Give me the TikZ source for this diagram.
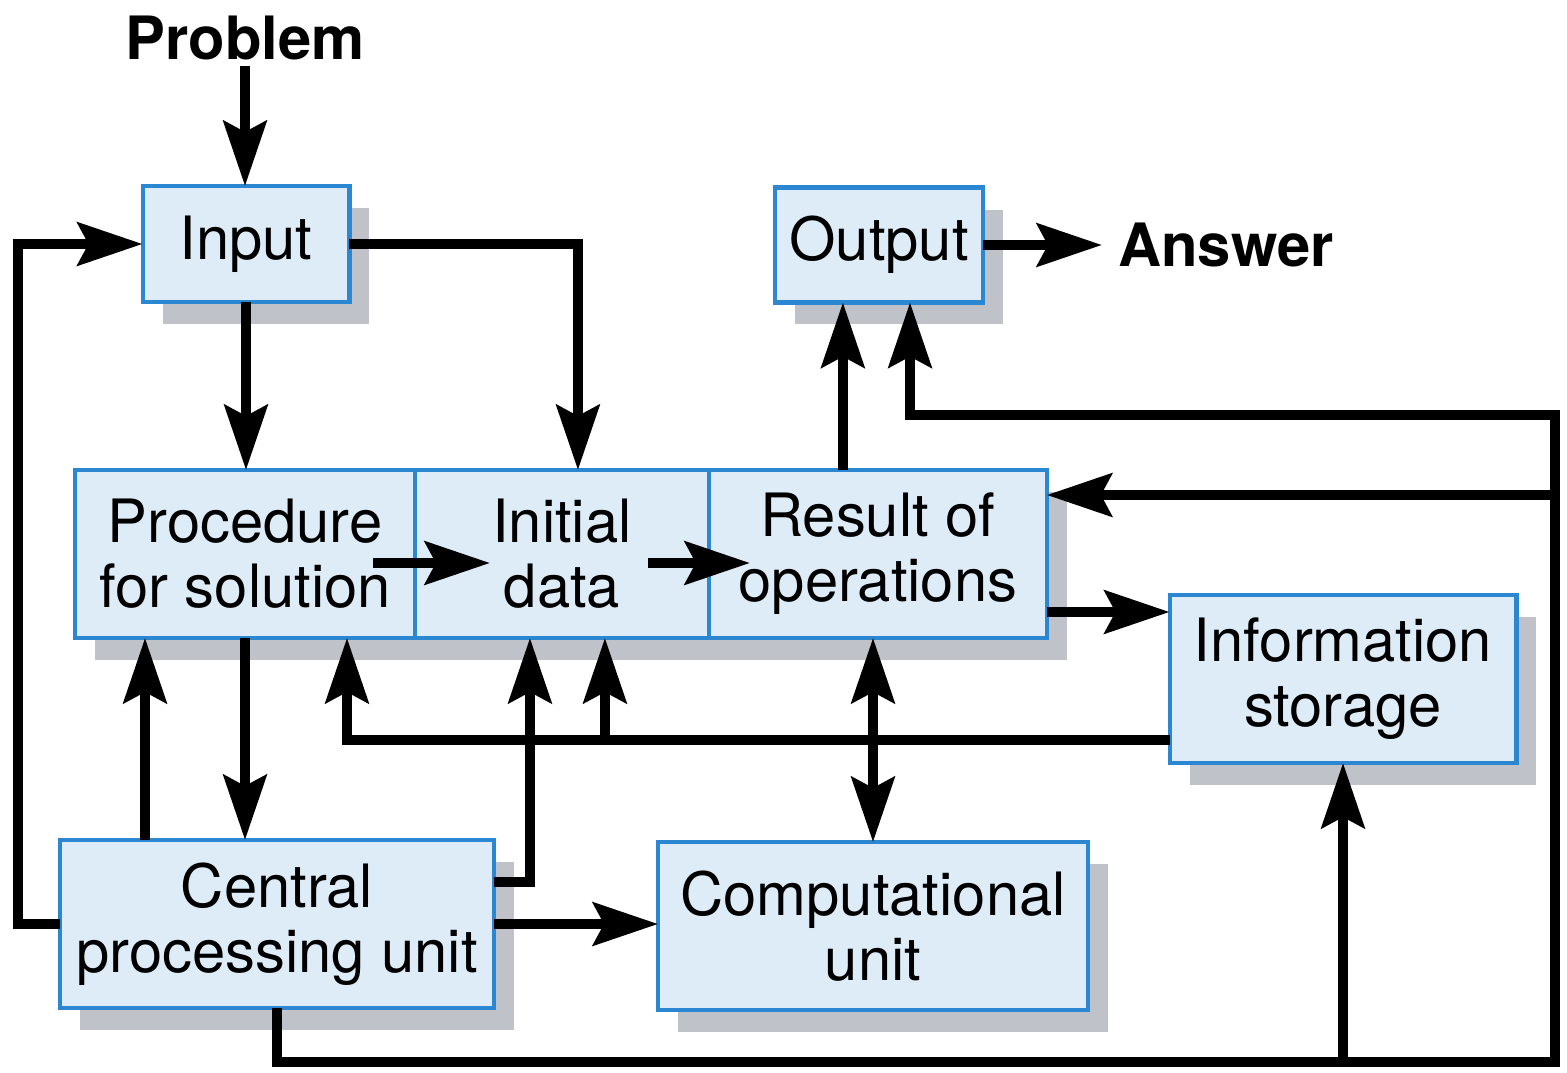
\documentclass[tikz,border=0pt]{standalone}
\usepackage{fontspec}
\setmainfont{TeX Gyre Heros}
\usetikzlibrary{arrows.meta,positioning,shadows}
\definecolor{boxblue}{RGB}{43,135,209}
\definecolor{boxfill}{RGB}{222,236,247}
\definecolor{shadowgray}{RGB}{192,194,202}
\newcommand{\bigtxt}{\fontsize{34}{37}\selectfont}

\begin{document}
\begin{tikzpicture}[x=0.02cm,y=-0.02cm,>={Stealth[length=1.3cm,width=0.86cm,inset=0.22cm]},line join=miter]
        \tikzstyle{block}=[draw=boxblue,line width=2.3pt,fill=boxfill,inner sep=0pt,outer sep=0pt,minimum height=3.36cm,align=center,font=\bigtxt,drop shadow={shadow xshift=0.4cm,shadow yshift=-0.44cm,fill=shadowgray,opacity=1}]
        \tikzstyle{term}=[font=\bigtxt\bfseries]
        \tikzstyle{arr}=[->,line width=0.2cm]
        \useasboundingbox (0,0) rectangle (1567,1072);

        \node[term]                      (prob) at (245,38)   {Problem};
        \node[block,minimum width=4.14cm,minimum height=2.32cm] (inp) at (246,244) {Input};
        \node[block,minimum width=4.16cm,minimum height=2.3cm]  (out) at (879,245) {Output};
        \node[term]                      (ans)  [right=2.58cm of out] {Answer};
        \node[block,minimum width=6.8cm]  (proc) at (245,554)  {Procedure\\for solution};
        \node[block,minimum width=5.88cm] (init) [right=0pt of proc] {Initial\\data};
        \node[block,minimum width=6.76cm] (res)  [right=0pt of init] {Result of\\operations};
        \node[block,minimum width=6.94cm] (info) at (1343,679) {Information\\storage};
        \node[block,minimum width=8.7cm]  (cpu)  at (277,924)  {Central\\processing unit};
        \node[block,minimum width=8.6cm]  (comp) at (873,926)  {Computational\\unit};

        % corners of the big loop on the right
        \coordinate (br) at (1555,1062);
        \coordinate (tr) at (1555,415);
        \coordinate (mr) at (1555,495);
        \coordinate (back) at ([yshift=-1.22cm]info.west);
        \coordinate (dj) at ([xshift=0.86cm]init.south);
        \coordinate (cu) at ([xshift=-2.64cm]cpu.north);

        \draw[arr] (prob.south) -- (prob.south |- inp.north);
        \draw[arr] (inp.south) -- (inp.south |- proc.north);
        \draw[arr] (inp.east) -| ([xshift=0.32cm]init.north);
        \draw[arr] (cpu.west) -- ++(-42,0) |- (inp.west);
        \draw[arr] ([xshift=-0.84cm,yshift=-0.18cm]proc.east) -- ([xshift=1.5cm,yshift=-0.18cm]init.west);
        \draw[arr] ([xshift=-1.22cm,yshift=-0.18cm]init.east) -- ([xshift=0.82cm,yshift=-0.18cm]res.west);
        \draw[arr] ([xshift=-0.7cm]res.north) -- ([xshift=-0.7cm]res.north |- out.south);
        \draw[arr] (out.east) -- ([xshift=-0.2cm]ans.west);
        \draw[arr] ([yshift=-1.16cm]res.east) -- ([yshift=-1.16cm]res.east -| info.west);
        \draw[arr] (back) -| ([xshift=2.04cm]proc.south);
        \draw[arr] (dj |- back) -- (dj);
        \draw[arr] (proc.south) -- (proc.south |- cpu.north);
        \draw[arr] (cu) -- (cu |- proc.south);
        \draw[arr] ([yshift=0.84cm]cpu.east) -| ([xshift=-0.64cm]init.south);
        \draw[arr] (cpu.east) -- (cpu.east -| comp.west);
        \draw[arr,<->] (comp.north |- res.south) -- (comp.north);
        \draw[arr] (cpu.south) |- (br) -- (tr) -| ([xshift=0.62cm]out.south);
        \draw[arr] (mr) -- (mr -| res.east);
        \draw[arr] (info.south |- br) -- (info.south);
\end{tikzpicture}
\end{document}
